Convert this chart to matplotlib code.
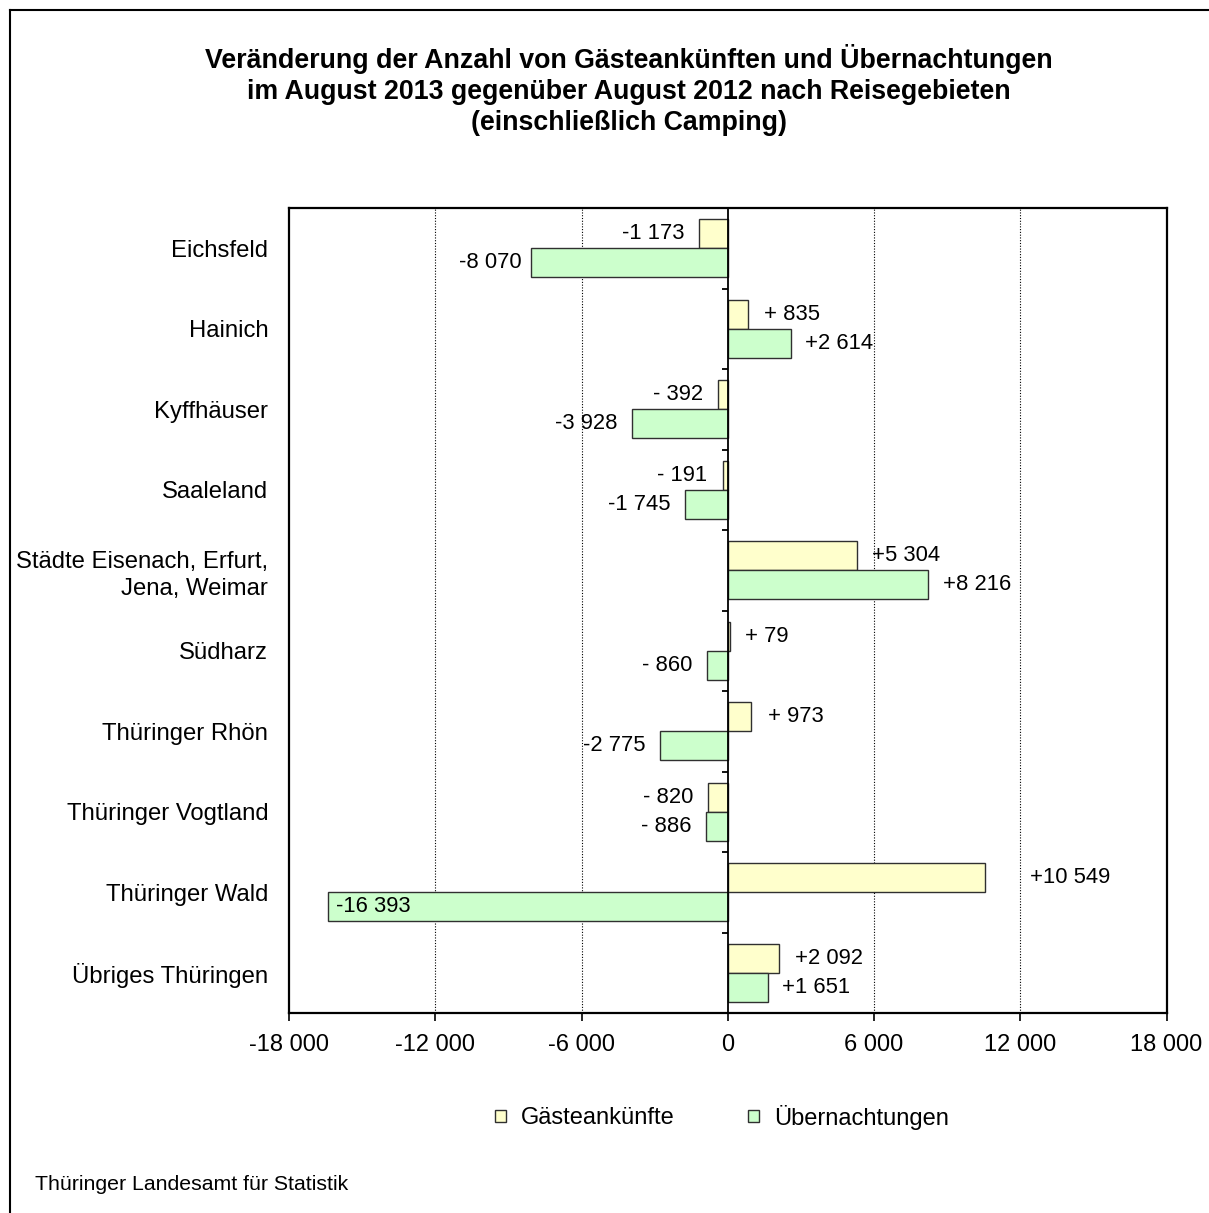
import matplotlib
matplotlib.use("Agg")
import matplotlib.pyplot as plt
from matplotlib.patches import Patch
from matplotlib.lines import Line2D
import numpy as np

plt.rcParams['font.family'] = ['Liberation Sans', 'DejaVu Sans']

# ---------------- data ----------------
regions = ["Eichsfeld", "Hainich", "Kyffhäuser", "Saaleland",
           "Städte Eisenach, Erfurt,\nJena, Weimar", "Südharz",
           "Thüringer Rhön", "Thüringer Vogtland", "Thüringer Wald",
           "Übriges Thüringen"]
gaeste = [-1173, 835, -392, -191, 5304, 79, 973, -820, 10549, 2092]
uebern = [-8070, 2614, -3928, -1745, 8216, -860, -2775, -886, -16393, 1651]
series_names = ["Gästeankünfte", "Übernachtungen"]
xticks = [-18000, -12000, -6000, 0, 6000, 12000, 18000]
title = ("Veränderung der Anzahl von Gästeankünften und Übernachtungen\n"
         "im August 2013 gegenüber August 2012 nach Reisegebieten\n"
         "(einschließlich Camping)")
source = "Thüringer Landesamt für Statistik"

# ---------------- style ----------------
col_g = "#FFFFCC"
col_u = "#CCFFCC"
edge = "#303030"
# label center offsets from bar end (pixels)
off_g = [-46, 44, -40, -41, 49, 37, 44, -40, 85, 50]
off_u = [-41, 48, -46, -46, 49, -40, -46, -40, 45, 48]

def fmt(v):
    s = "+" if v > 0 else "-"
    a = abs(v)
    if a < 1000:
        return f"{s} {a}"
    return s + f"{a:,}".replace(",", " ")

W, H = 1209, 1213
fig = plt.figure(figsize=(W / 100, H / 100), dpi=100)
ax = fig.add_axes([289 / W, 1 - 1013 / H, (1166.5 - 289) / W, (1013 - 208) / H])

n = len(regions)
y = np.arange(n)
h = 0.363
ax.barh(y - h / 2, gaeste, height=h, color=col_g, edgecolor=edge, linewidth=1.0, zorder=3)
ax.barh(y + h / 2, uebern, height=h, color=col_u, edgecolor=edge, linewidth=1.0, zorder=3)

ax.set_xlim(xticks[0], xticks[-1])
ax.set_ylim(n - 0.5, -0.5)
ax.set_xticks(xticks)
ax.set_xticklabels([("%d" % t if abs(t) < 1000 else ("-" if t < 0 else "") + f"{abs(t):,}".replace(",", " ")) for t in xticks])
ax.set_yticks(y)
ax.set_yticklabels(regions, fontsize=17.2, ha='right', linespacing=1.3)
ax.tick_params(axis='y', length=0, pad=15)
ax.tick_params(axis='x', length=6, width=1.2, pad=9, labelsize=17, direction='out')

for s in ax.spines.values():
    s.set_linewidth(1.6)
    s.set_color('black')

# gridlines
for t in xticks[1:-1]:
    if t != 0:
        ax.axvline(t, color='black', linestyle=(0, (1, 1.5)), linewidth=0.8, zorder=1)
ax.axvline(0, color='black', linewidth=1.3, zorder=4)
# small tick marks on the zero axis at category boundaries
tick_len = 6 * (xticks[-1] - xticks[0]) / (1166.5 - 289)
ax.hlines(np.arange(n - 1) + 0.5, -tick_len, 0, color='black', linewidth=1.3, zorder=4)

# data labels
for i in range(n):
    ax.annotate(fmt(gaeste[i]), (gaeste[i], y[i] - h / 2), xytext=(off_g[i], 0),
                textcoords='offset pixels', ha='center', va='center', fontsize=15.8, zorder=5)
    ax.annotate(fmt(uebern[i]), (uebern[i], y[i] + h / 2), xytext=(off_u[i], 0),
                textcoords='offset pixels', ha='center', va='center', fontsize=15.8, zorder=5)

fig.text(629 / W, 1 - 90 / H, title, ha='center', va='center', fontsize=19.3,
         fontweight='bold', linespacing=1.26)
fig.text(35 / W, 1 - 1185 / H, source, ha='left', va='center', fontsize=15.3)

handles = [Patch(facecolor=col_g, edgecolor=edge, linewidth=1.0),
           Patch(facecolor=col_u, edgecolor=edge, linewidth=1.0)]
fig.legend(handles, series_names, loc='center', bbox_to_anchor=(722 / W, 1 - 1117 / H),
           ncol=2, frameon=False, fontsize=17.0, handlelength=0.45, handleheight=0.45,
           handletextpad=0.65, columnspacing=3.1)

# figure border (left and top)
fig.add_artist(Line2D([10 / W, 10 / W], [0, 1 - 10 / H], color='black', linewidth=1.5))
fig.add_artist(Line2D([10 / W, 1], [1 - 10 / H, 1 - 10 / H], color='black', linewidth=1.5))

fig.savefig("out.png", dpi=100)
